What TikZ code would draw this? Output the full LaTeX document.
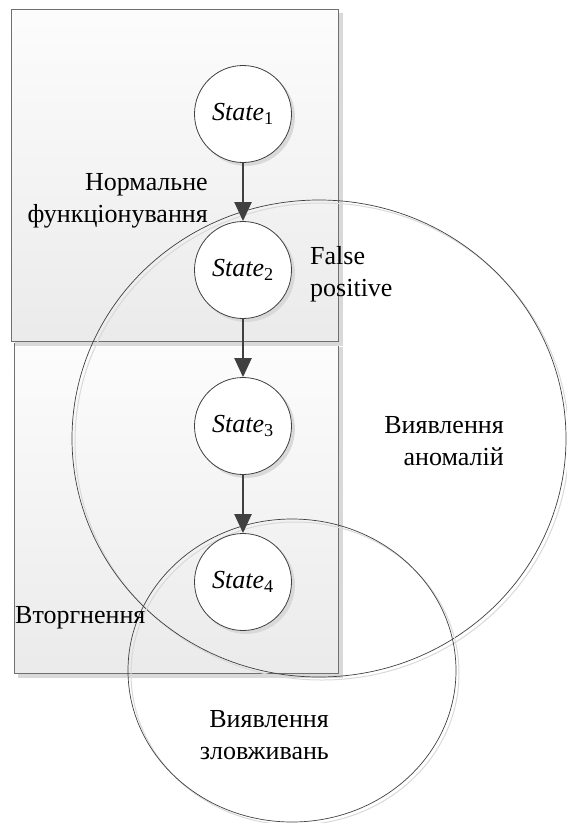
\documentclass[tikz,border=0pt]{standalone}
\usepackage{fontspec}
\setmainfont{Liberation Serif}
\newfontfamily\timesfont{Liberation Serif}
\usetikzlibrary{arrows.meta,shadows,shapes.geometric}
\definecolor{edge}{HTML}{404040}
\definecolor{boxline}{HTML}{707070}
\definecolor{shade}{HTML}{D9D9D9}
\begin{document}
\begin{tikzpicture}[x=1pt,y=-1pt,
  lbl/.style={font=\timesfont\fontsize{26}{32}\selectfont, inner sep=0pt},
  statenode/.style={circle, draw=edge, line width=0.8pt, fill=white,
    minimum size=97pt, inner sep=0pt,
    drop shadow={shadow xshift=3pt, shadow yshift=-3pt, fill=shade, draw=shade, opacity=1},
    font=\timesfont\fontsize{26}{30}\selectfont},
  flow/.style={draw=edge, line width=2.3pt, -{Triangle[width=17pt,length=19pt]}},
  region/.style={rectangle, draw=boxline, line width=0.8pt, top color=black!1, bottom color=black!8,
    inner sep=0pt,
    drop shadow={shadow xshift=4pt, shadow yshift=-4pt, fill=shade, draw=shade, opacity=1}},
  ring/.style={ellipse, draw=edge, line width=0.7pt, inner sep=0pt,
    general shadow={shadow xshift=3pt, shadow yshift=-3pt, draw=shade, line width=1pt, fill=none}}
]
\useasboundingbox (0,0) rectangle (567,823);

% regions
\node[region, minimum width=324pt, minimum height=330pt] (intrusionbox) at (176,508) {};
\node[region, minimum width=327pt, minimum height=332pt] (normalbox) at (174.5,175) {};

% detection areas
\node[ring, minimum width=494pt, minimum height=477pt] (anomaly) at (319,438.5) {};
\node[ring, minimum width=328pt, minimum height=303pt] (misuse) at (292,670.5) {};

% states
\node[statenode] (s1) at (243,114) {{\itshape State}\textsubscript{\upshape 1}};
\node[statenode] (s2) at (243,270) {{\itshape State}\textsubscript{\upshape 2}};
\node[statenode] (s3) at (243,426) {{\itshape State}\textsubscript{\upshape 3}};
\node[statenode] (s4) at (243,582) {{\itshape State}\textsubscript{\upshape 4}};

\draw[flow] (s1) -- (s2);
\draw[flow] (s2) -- (s3);
\draw[flow] (s3) -- (s4);

% labels (base anchor = baseline of last line)
\node[lbl, align=right, anchor=base east] (lnormal) at (208,222) {Нормальне\\функціонування};
\node[lbl, align=left, anchor=base west] (lfalse) at (310,296) {False\\positive};
\node[lbl, align=right, anchor=base east] (lanomaly) at (504,465) {Виявлення\\аномалій};
\node[lbl, anchor=base west] (lintrusion) at (15,623) {Вторгнення};
\node[lbl, align=right, anchor=base east] (lmisuse) at (329,759) {Виявлення\\зловживань};
\end{tikzpicture}
\end{document}
